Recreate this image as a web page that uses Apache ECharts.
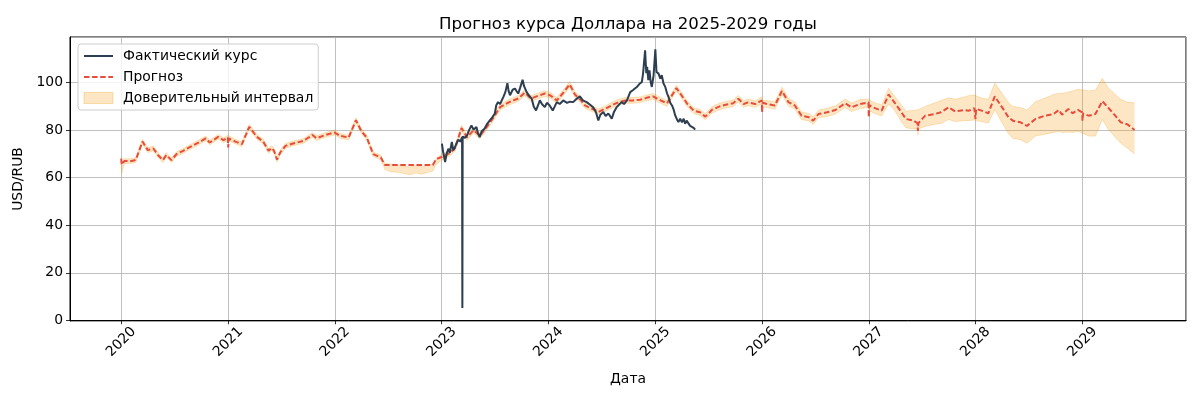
<!DOCTYPE html>
<html><head><meta charset="utf-8">
<script src="https://cdn.jsdelivr.net/npm/echarts@6/dist/echarts.min.js"></script>
<style>html,body{margin:0;padding:0;background:#fff}#c{width:1200px;height:400px}</style>
</head><body><div id="c"></div><script>
// ---- Data ----
const actualDates = [
'2023-01-02','2023-01-06','2023-01-13','2023-01-18','2023-01-24','2023-01-29','2023-02-05','2023-02-10','2023-02-16','2023-02-21',
'2023-02-27','2023-03-06','2023-03-12','2023-03-13','2023-03-14','2023-03-22','2023-03-29','2023-04-05','2023-04-13','2023-04-20',
'2023-04-30','2023-05-05','2023-05-11','2023-05-18','2023-05-28','2023-06-05','2023-06-15','2023-06-24','2023-07-02','2023-07-07',
'2023-07-13','2023-07-20','2023-07-31','2023-08-07','2023-08-14','2023-08-18','2023-08-23','2023-09-01','2023-09-09','2023-09-14',
'2023-09-20','2023-09-27','2023-10-05','2023-10-10','2023-10-19','2023-10-26','2023-11-05','2023-11-12','2023-11-20','2023-11-27',
'2023-12-03','2023-12-10','2023-12-20','2023-12-27','2024-01-05','2024-01-10','2024-01-16','2024-01-23','2024-01-30','2024-02-09',
'2024-02-21','2024-03-05','2024-03-15','2024-03-26','2024-04-05','2024-04-18','2024-04-28','2024-05-11','2024-05-22','2024-06-03',
'2024-06-12','2024-06-20','2024-06-27','2024-07-07','2024-07-15','2024-07-24','2024-07-30','2024-08-05','2024-08-12','2024-08-22',
'2024-09-01','2024-09-08','2024-09-16','2024-09-26','2024-10-07','2024-10-16','2024-10-23','2024-10-30','2024-11-08','2024-11-16',
'2024-11-20','2024-11-27','2024-12-01','2024-12-04','2024-12-08','2024-12-12','2024-12-16','2024-12-20','2024-12-26','2025-01-01',
'2025-01-05','2025-01-12','2025-01-18','2025-01-23','2025-01-29','2025-02-04','2025-02-10','2025-02-15','2025-02-21','2025-02-27',
'2025-03-05','2025-03-10','2025-03-16','2025-03-21','2025-03-27','2025-04-02','2025-04-08','2025-04-13','2025-04-18','2025-04-24',
'2025-04-30','2025-05-06','2025-05-12','2025-05-17'];
const actualValues = [
74.3,71.0,66.6,70.0,72.2,70.5,75.0,71.5,72.9,74.5,
76.0,75.2,77.1,5.2,77.3,76.8,77.8,80.0,82.0,80.2,
81.3,79.0,77.1,79.5,80.6,82.5,84.1,85.5,87.0,90.5,
91.8,91.0,93.9,96.0,99.8,96.5,94.7,97.0,97.5,96.5,
95.4,98.0,101.2,98.5,96.0,94.7,93.3,90.0,88.3,90.5,
92.6,91.0,89.7,91.5,90.5,89.5,88.3,90.0,91.8,91.0,
92.5,91.5,92.0,91.8,93.0,94.2,92.5,91.8,90.8,89.5,
87.5,84.1,86.5,87.6,86.0,87.0,86.0,84.8,87.5,89.7,
91.0,91.8,91.0,92.5,96.0,96.8,97.5,98.2,99.5,100.3,
103.8,113.6,104.0,106.6,101.0,105.2,100.3,98.2,103.0,114.0,
104.5,103.8,101.7,103.1,99.6,98.2,95.5,94.0,91.5,90.4,
88.5,86.2,84.5,83.4,84.8,83.3,84.8,82.7,84.0,83.4,
81.8,82.0,81.0,80.2];

const forecastDates = [
'2020-01-01','2020-01-03','2020-01-12','2020-02-06','2020-02-20','2020-03-14','2020-04-01','2020-04-20','2020-05-08','2020-05-23',
'2020-06-03','2020-06-21','2020-07-09','2020-07-31','2020-08-26','2020-09-16','2020-10-16','2020-10-30','2020-11-28','2020-12-16',
'2020-12-31','2021-01-01','2021-01-03','2021-01-26','2021-02-17','2021-03-14','2021-04-09','2021-05-01','2021-05-19','2021-05-30',
'2021-06-07','2021-06-17','2021-06-28','2021-07-16','2021-08-11','2021-09-16','2021-10-16','2021-10-30','2021-11-21','2021-12-09',
'2021-12-31','2022-01-19','2022-02-17','2022-03-14','2022-04-01','2022-04-20','2022-05-12','2022-06-07','2022-06-21','2022-07-10',
'2022-08-01','2022-08-25','2022-09-15','2022-10-05','2022-10-25','2022-11-15','2022-12-02','2022-12-13','2022-12-28','2023-01-08',
'2023-01-30','2023-02-17','2023-03-10','2023-03-29','2023-04-20','2023-05-12','2023-06-03','2023-06-28','2023-07-20','2023-08-22',
'2023-09-20','2023-10-12','2023-11-03','2023-11-24','2023-12-20','2024-01-08','2024-01-30','2024-02-23','2024-03-14','2024-04-01',
'2024-04-20','2024-05-05','2024-05-30','2024-06-21','2024-07-13','2024-08-04','2024-08-29','2024-09-20','2024-10-16','2024-11-10',
'2024-12-02','2024-12-24','2025-01-19','2025-02-10','2025-03-14','2025-04-01','2025-04-20','2025-05-12','2025-06-03','2025-06-21',
'2025-07-06','2025-07-13','2025-08-07','2025-09-02','2025-09-24','2025-10-12','2025-10-30','2025-11-14','2025-12-09','2025-12-31',
'2026-01-01','2026-01-03','2026-01-19','2026-02-14','2026-03-10','2026-04-01','2026-04-23','2026-05-16','2026-06-10','2026-06-25',
'2026-07-13','2026-08-11','2026-09-09','2026-10-12','2026-11-03','2026-11-17','2026-12-02','2026-12-31','2027-01-01','2027-01-03',
'2027-01-15','2027-02-14','2027-03-10','2027-03-29','2027-04-23','2027-05-08','2027-06-03','2027-06-17','2027-06-18','2027-06-20',
'2027-07-13','2027-08-15','2027-09-05','2027-10-01','2027-10-23','2027-11-24','2027-12-10','2027-12-28','2028-01-01','2028-01-03',
'2028-01-22','2028-02-14','2028-03-07','2028-04-01','2028-04-23','2028-05-08','2028-06-03','2028-06-25','2028-07-24','2028-08-26',
'2028-09-24','2028-10-12','2028-10-23','2028-11-14','2028-11-28','2028-12-16','2028-12-31','2029-01-01','2029-01-03','2029-01-22',
'2029-02-14','2029-03-10','2029-03-29','2029-04-23','2029-05-12','2029-06-03','2029-06-28'];
const forecastValues = [
68.0,65.5,67.0,67.0,67.5,75.2,71.6,72.3,69.2,67.4,
69.5,67.4,70.0,71.3,73.1,74.4,76.5,74.8,77.2,75.8,
76.9,72.7,76.5,75.2,74.1,81.4,77.2,75.2,71.3,72.5,
71.3,67.6,70.6,73.4,74.4,75.5,78.0,76.6,77.6,78.3,
79.0,77.6,76.9,84.2,79.7,76.9,69.9,68.5,65.3,65.3,
65.3,65.3,65.3,65.3,65.3,65.3,65.3,67.8,68.5,69.0,
70.4,72.6,80.9,76.9,80.0,77.6,81.1,85.4,89.7,91.9,
93.3,95.7,93.3,94.3,95.4,94.6,92.5,96.0,99.3,95.0,
92.8,90.4,89.0,87.7,89.0,90.4,91.8,92.5,92.5,92.8,
93.6,94.2,92.5,91.3,97.7,94.6,91.1,88.2,87.5,85.7,
87.5,88.5,89.9,90.8,91.3,93.2,91.0,91.7,91.0,92.5,
87.5,91.5,91.0,90.4,96.5,91.8,90.4,86.1,85.4,84.0,
86.8,87.5,88.5,91.3,89.6,90.3,91.0,91.7,85.4,90.5,
89.6,88.2,95.0,91.8,87.5,84.7,84.0,82.9,79.7,83.0,
86.1,86.8,87.5,89.6,87.9,88.5,88.2,89.3,84.7,89.0,
88.2,87.1,94.2,89.6,85.4,84.0,83.3,81.8,84.7,86.1,
86.8,88.5,86.5,88.9,87.1,88.5,87.5,84.0,87.0,86.1,
86.8,92.2,89.6,86.1,83.3,82.5,80.1];
const bandLower = [
66.8,62.0,66.0,66.0,66.5,74.2,70.6,71.3,68.2,66.4,
68.5,66.4,69.0,70.3,72.1,73.4,75.5,73.8,76.2,74.8,
75.9,75.5,75.5,74.2,73.1,80.4,76.2,74.2,70.3,71.5,
70.3,66.6,69.6,72.4,73.4,74.5,77.0,75.6,76.6,77.3,
78.0,76.6,75.9,83.2,78.7,75.9,68.9,67.5,63.5,62.5,
62.3,61.8,61.2,62.0,61.5,62.2,62.8,65.5,67.0,67.8,
69.2,71.4,79.7,75.7,78.8,76.4,79.9,84.2,88.5,90.7,
92.1,94.5,92.1,93.1,94.2,93.4,91.3,94.8,98.1,93.8,
91.6,89.2,87.8,86.5,87.8,89.2,90.6,91.3,91.3,91.6,
92.4,93.0,91.3,90.1,96.5,93.4,89.9,87.0,86.2,84.4,
86.2,87.2,88.5,89.4,89.9,91.8,89.6,90.3,89.6,91.0,
89.6,90.0,89.5,88.8,94.9,90.2,88.8,84.5,83.8,82.4,
85.2,85.8,86.8,89.5,87.8,88.5,89.1,89.5,88.5,88.0,
87.3,86.0,91.0,88.5,83.5,81.0,80.5,80.6,78.0,80.6,
81.5,82.5,82.8,84.5,83.6,84.0,84.0,84.4,84.0,84.2,
83.5,83.0,88.6,83.0,78.5,76.5,76.0,74.5,77.5,78.3,
79.0,79.5,79.0,79.2,79.0,79.5,79.0,79.0,78.5,77.5,
77.5,84.5,80.5,77.0,74.5,72.5,70.0];
const bandUpper = [
69.0,66.5,68.0,68.0,68.5,76.2,72.6,73.3,70.2,68.4,
70.5,68.4,71.0,72.3,74.1,75.4,77.5,75.8,78.2,76.8,
77.9,77.5,77.5,76.2,75.1,82.4,78.2,76.2,72.3,73.5,
72.3,68.6,71.6,74.4,75.4,76.5,79.0,77.6,78.6,79.3,
80.0,78.6,77.9,85.2,80.7,77.9,70.9,69.5,66.0,65.8,
65.5,64.8,64.5,65.2,64.6,65.3,65.8,68.0,69.5,70.2,
71.6,73.8,82.1,78.1,81.2,78.8,82.3,86.6,90.9,93.1,
94.5,96.9,94.5,95.5,96.6,95.8,93.7,97.2,100.5,96.2,
94.0,91.6,90.2,88.9,90.2,91.6,93.0,93.7,93.7,94.0,
94.8,95.4,93.7,92.5,98.9,95.8,92.3,89.4,88.8,87.0,
88.8,89.8,91.3,92.2,92.7,94.6,92.4,93.1,92.4,94.0,
92.6,93.0,92.5,92.0,98.1,93.4,92.0,87.7,87.0,85.6,
88.4,89.2,90.2,93.1,91.4,92.1,92.9,93.0,92.8,92.6,
91.9,90.6,97.6,94.5,90.5,88.0,88.4,88.5,88.5,88.6,
90.0,91.5,92.5,93.6,93.0,94.0,94.6,94.8,94.6,94.5,
93.5,93.0,99.8,95.5,91.5,90.0,89.5,88.5,92.0,93.5,
95.0,95.5,95.5,96.0,96.5,97.2,97.0,97.0,96.8,96.5,
96.8,101.8,98.0,95.0,93.0,91.8,91.5];

const seriesNames = ['Фактический курс', 'Прогноз', 'Доверительный интервал'];
const chartTitle = 'Прогноз курса Доллара на 2025-2029 годы';
const xAxisTitle = 'Дата';
const yAxisTitle = 'USD/RUB';

// ---- Chart ----
const FONT = 'DejaVu Sans';
const FS = 13.9;
const chart = echarts.init(document.getElementById('c'), null, {renderer: 'canvas'});
const bandFill = 'rgba(243,156,18,0.25)';
const bandEdge = 'rgba(243,156,18,0.30)';

chart.setOption({
  animation: false,
  textStyle: {fontFamily: FONT},
  title: {
    text: chartTitle, left: 623, top: 11, textAlign: 'center',
    textStyle: {fontFamily: FONT, fontSize: 16.6, fontWeight: 'normal', color: '#000'}
  },
  grid: {left: 70, right: 14, top: 37, bottom: 79, show: true,
         borderColor: '#000', borderWidth: 1, backgroundColor: 'transparent'},
  legend: {
    orient: 'vertical', left: 78, top: 44,
    padding: [5, 5, 5, 5], itemGap: 7, itemWidth: 29, itemHeight: 11,
    backgroundColor: 'rgba(255,255,255,0.8)', borderColor: '#cccccc', borderWidth: 1, borderRadius: 3,
    textStyle: {fontFamily: FONT, fontSize: FS, color: '#000', padding: [0, 0, 0, 5]},
    data: [
      {name: seriesNames[0], itemStyle: {opacity: 0}},
      {name: seriesNames[1], itemStyle: {opacity: 0}},
      {name: seriesNames[2], icon: 'rect', itemStyle: {color: bandFill, borderColor: bandEdge, borderWidth: 1}}
    ]
  },
  xAxis: {
    type: 'time', min: '2019-07-10', max: '2029-12-21', splitNumber: 10,
    name: xAxisTitle, nameLocation: 'middle', nameGap: 51,
    nameTextStyle: {fontFamily: FONT, fontSize: FS, color: '#000'},
    axisLine: {show: true, lineStyle: {color: '#000', width: 1}},
    axisTick: {show: true, length: 4, lineStyle: {color: '#000', width: 0.8}},
    axisLabel: {
      rotate: 45, margin: 21, align: 'center', verticalAlign: 'middle',
      showMinLabel: false, showMaxLabel: false,
      fontFamily: FONT, fontSize: FS, color: '#000',
      formatter: v => String(new Date(v).getFullYear())
    },
    splitLine: {show: true, lineStyle: {color: '#b0b0b0', width: 0.8}}
  },
  yAxis: {
    type: 'value', min: -0.3, max: 119.2,
    name: yAxisTitle, nameLocation: 'middle', nameGap: 37,
    nameTextStyle: {fontFamily: FONT, fontSize: FS, color: '#000'},
    axisLine: {show: true, lineStyle: {color: '#000', width: 1}},
    axisTick: {show: true, length: 4, lineStyle: {color: '#000', width: 0.8}},
    axisLabel: {
      margin: 7, showMinLabel: false, showMaxLabel: false,
      fontFamily: FONT, fontSize: FS, color: '#000',
      formatter: v => (Math.abs(v % 20) < 1e-6 ? String(v) : '')
    },
    splitLine: {show: true, lineStyle: {color: '#b0b0b0', width: 0.8}}
  },
  series: [
    {
      name: 'band-base', type: 'line', stack: 'band', symbol: 'none', silent: true, z: 1,
      data: forecastDates.map((d, i) => [d, bandLower[i]]),
      lineStyle: {color: bandEdge, width: 0.8}
    },
    {
      name: seriesNames[2], type: 'line', stack: 'band', symbol: 'none', silent: true, z: 1,
      data: forecastDates.map((d, i) => [d, bandUpper[i] - bandLower[i]]),
      lineStyle: {color: bandEdge, width: 0.8},
      itemStyle: {color: bandFill},
      areaStyle: {color: bandFill, opacity: 1}
    },
    {
      name: seriesNames[1], type: 'line', symbol: 'none', z: 3,
      data: forecastDates.map((d, i) => [d, forecastValues[i]]),
      itemStyle: {color: '#e74c3c'},
      lineStyle: {color: '#e74c3c', width: 2, type: [5.5, 2.6]}
    },
    {
      name: seriesNames[0], type: 'line', symbol: 'none', z: 4,
      data: actualDates.map((d, i) => [d, actualValues[i]]),
      itemStyle: {color: '#2c3e50'},
      lineStyle: {color: '#2c3e50', width: 2}
    }
  ]
});
</script></body></html>
